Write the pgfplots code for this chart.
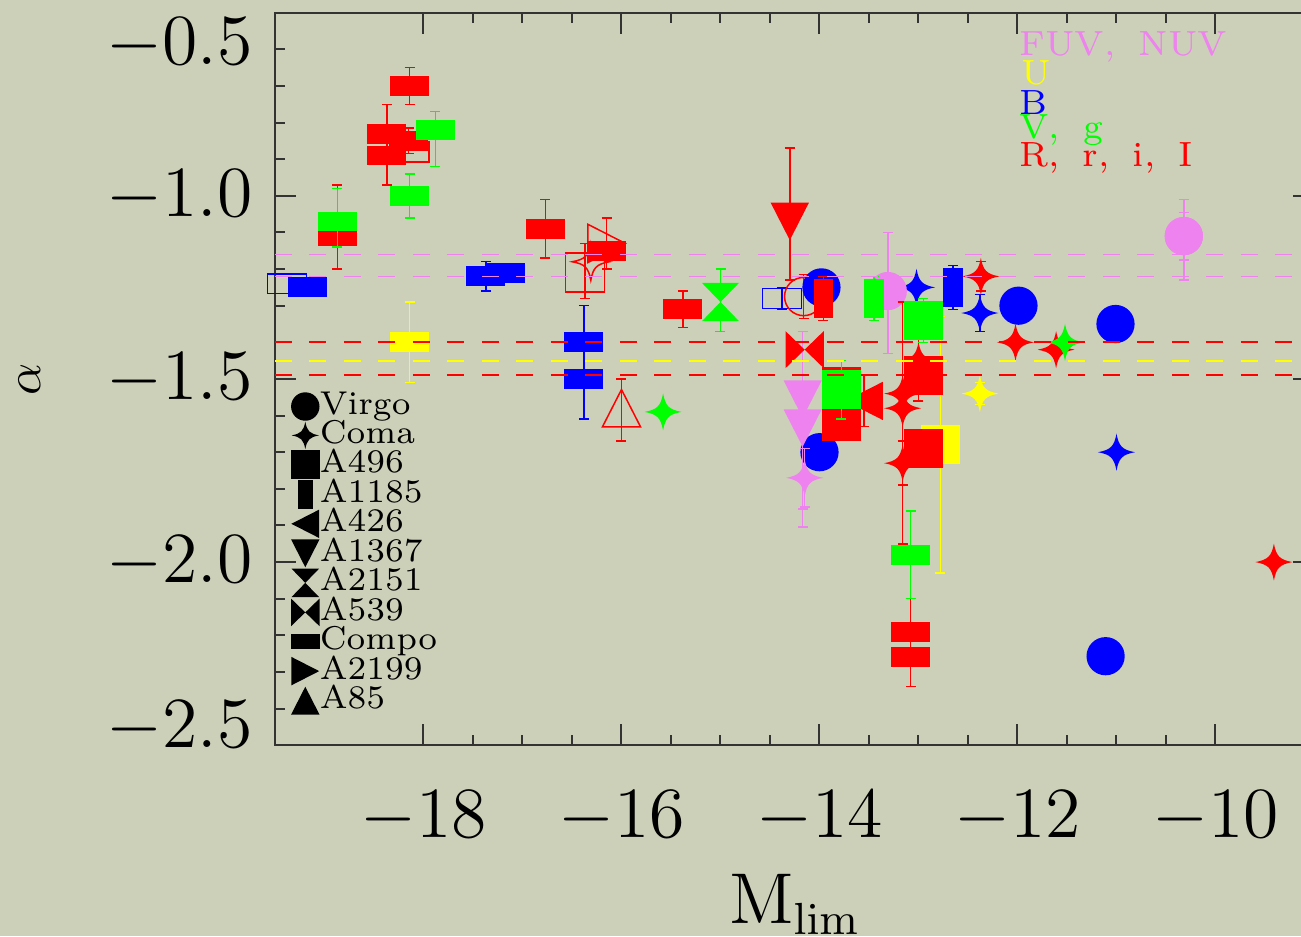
\documentclass[border=0pt]{standalone}
\usepackage{pgfplots}
\pgfplotsset{compat=1.18}
\usetikzlibrary{backgrounds}

\definecolor{bgc}{RGB}{204,208,185}
\definecolor{vio}{RGB}{238,130,238}
\definecolor{grn}{RGB}{0,255,0}
\definecolor{yel}{RGB}{255,255,0}
\definecolor{blu}{RGB}{0,0,255}
\definecolor{rd}{RGB}{255,0,0}

% each symbol comes as a filled (F) and an open (O) variant
\newcommand\defmk[2]{%
  \pgfdeclareplotmark{#1F}{#2\pgfusepathqfill}%
  \pgfdeclareplotmark{#1O}{#2\pgfusepathqstroke}}
\newcommand\mpt[2]{\pgfpoint{#1\pgfplotmarksize}{#2\pgfplotmarksize}}

\defmk{circ}{\pgfpathcircle{\pgfpointorigin}{0.98\pgfplotmarksize}}
\defmk{sq}{\pgfpathrectanglecorners{\mpt{-1}{-1}}{\mpt{1}{1}}}
\defmk{tall}{\pgfpathrectanglecorners{\mpt{-0.51}{-1}}{\mpt{0.51}{1}}}
\defmk{wide}{\pgfpathrectanglecorners{\mpt{-1}{-0.51}}{\mpt{1}{0.51}}}
\defmk{up}{\pgfpathmoveto{\mpt{0}{0.96}}\pgfpathlineto{\mpt{0.98}{-0.96}}\pgfpathlineto{\mpt{-0.98}{-0.96}}\pgfpathclose}
\defmk{down}{\pgfpathmoveto{\mpt{0}{-0.96}}\pgfpathlineto{\mpt{0.98}{0.96}}\pgfpathlineto{\mpt{-0.98}{0.96}}\pgfpathclose}
\defmk{left}{\pgfpathmoveto{\mpt{-0.96}{0}}\pgfpathlineto{\mpt{0.96}{0.98}}\pgfpathlineto{\mpt{0.96}{-0.98}}\pgfpathclose}
\defmk{right}{\pgfpathmoveto{\mpt{0.96}{0}}\pgfpathlineto{\mpt{-0.96}{0.98}}\pgfpathlineto{\mpt{-0.96}{-0.98}}\pgfpathclose}
\defmk{hour}{\pgfpathmoveto{\mpt{-0.95}{0.98}}\pgfpathlineto{\mpt{0.95}{0.98}}\pgfpathlineto{\mpt{0}{0}}\pgfpathclose
  \pgfpathmoveto{\mpt{0}{0}}\pgfpathlineto{\mpt{0.95}{-0.98}}\pgfpathlineto{\mpt{-0.95}{-0.98}}\pgfpathclose}
\defmk{bow}{\pgfpathmoveto{\mpt{-0.98}{0.95}}\pgfpathlineto{\mpt{-0.98}{-0.95}}\pgfpathlineto{\mpt{0}{0}}\pgfpathclose
  \pgfpathmoveto{\mpt{0}{0}}\pgfpathlineto{\mpt{0.98}{0.95}}\pgfpathlineto{\mpt{0.98}{-0.95}}\pgfpathclose}
\defmk{star}{\pgfpathmoveto{\mpt{0}{0.95}}%
  \pgfpathcurveto{\mpt{0.12}{0.3}}{\mpt{0.3}{0.12}}{\mpt{0.95}{0}}%
  \pgfpathcurveto{\mpt{0.3}{-0.12}}{\mpt{0.12}{-0.3}}{\mpt{0}{-0.95}}%
  \pgfpathcurveto{\mpt{-0.12}{-0.3}}{\mpt{-0.3}{-0.12}}{\mpt{-0.95}{0}}%
  \pgfpathcurveto{\mpt{-0.3}{0.12}}{\mpt{-0.12}{0.3}}{\mpt{0}{0.95}}\pgfpathclose}

\pgfplotsset{
  pt/.style={only marks, mark size=3.9pt, forget plot, mark options={line width=0.3pt}},
  eb/.style={error bars/.cd, y dir=both, y explicit,
    error bar style={line width=0.3pt},
    error mark=-,
    error mark options={rotate=90, line width=0.3pt, mark size=1pt}},
  lim/.style={forget plot, no marks, line width=0.35pt, dash pattern=on 3.4pt off 3.5pt},
  lg/.style={black, only marks, mark size=2.9pt},
}

\begin{document}
\begin{tikzpicture}
\begin{axis}[
  scale only axis, width=207.9pt, height=146.5pt,
  xmin=-19.5, xmax=-9, ymin=-2.5, ymax=-0.5,
  clip mode=individual,
  xtick={-18,-16,-14,-12,-10}, minor x tick num=3,
  ytick={-2.5,-2,-1.5,-1,-0.5}, yticklabels={,$-2.0$,$-1.5$,$-1.0$,},
  minor y tick num=4,
  tick align=inside,
  major tick length=4.2pt, minor tick length=2pt,
  axis line style={black!80, line width=0.4pt},
  every tick/.style={black!80, line width=0.4pt},
  ticklabel style={font=\fontsize{14}{14}\selectfont},
  xticklabel style={yshift=-5.6pt},
  yticklabel style={xshift=-1pt},
  xlabel={$\mathrm{M_{lim}}$}, ylabel={$\alpha$},
  xlabel style={at={(axis description cs:0.5,-0.2432)}, anchor=base, font=\fontsize{13.5}{13.5}\selectfont},
  ylabel style={at={(axis description cs:-0.2357,0.5)}, anchor=center, font=\fontsize{10}{10}\selectfont},
  legend image code/.code={\draw[#1] plot coordinates {(0pt,0pt)};},
  legend cell align=left,
  legend style={draw=none, fill=none, at={(0,1)}, anchor=north west,
    xshift=2.96pt, yshift=-75.56pt, inner sep=0pt, row sep=-0.3pt,
    font=\fontsize{6.6}{6.6}\selectfont,
    nodes={inner sep=0pt},
    /tikz/every even column/.append style={column sep=1pt}},
]
\coordinate (bl) at (rel axis cs:0,0);

% open symbols
\addplot[blu, pt, mark=wideO] coordinates {(-19.38,-1.24)};
\addplot[blu, pt, mark=wideO, eb] coordinates {(-14.38,-1.28) +- (0,0.03)};
\addplot[rd, pt, mark=wideO] coordinates {(-18.14,-0.88)};
\addplot[rd, pt, mark=rightO] coordinates {(-16.15,-1.13)};
\addplot[rd, pt, mark=starO] coordinates {(-16.31,-1.18)};
\addplot[rd, pt, mark=sqO, eb] coordinates {(-16.37,-1.21) += (0,0.08) -= (0,0.07)};
\addplot[rd, pt, mark=upO, eb] coordinates {(-16.00,-1.58) += (0,0.08) -= (0,0.09)};
\addplot[rd, pt, mark=circO, eb] coordinates {(-14.16,-1.275) +- (0,0.06)};

% B band
\addplot[blu, pt, mark=wideF] coordinates {(-19.17,-1.25) (-17.17,-1.21) (-16.38,-1.50)};
\addplot[blu, pt, mark=wideF, eb] coordinates {
  (-17.37,-1.22) +- (0,0.04)
  (-16.38,-1.40) += (0,0.10) -= (0,0.21)};
\addplot[blu, pt, mark=circF] coordinates {(-13.98,-1.25) (-14.0,-1.70) (-11.99,-1.30) (-11.01,-1.35) (-11.11,-2.257)};
\addplot[blu, pt, mark=starF] coordinates {(-13.02,-1.25) (-11.0,-1.70)};
\addplot[blu, pt, mark=starF, eb] coordinates {(-12.38,-1.32) +- (0,0.05)};
\addplot[blu, pt, mark=tallF, eb] coordinates {(-12.65,-1.25) +- (0,0.06)};

% FUV, NUV
\addplot[vio, pt, mark=circF, eb] coordinates {
  (-13.31,-1.26) += (0,0.16) -= (0,0.17)
  (-10.32,-1.11) += (0,0.10) -= (0,0.12)
  (-10.32,-1.11) +- (0,0.065)};
\addplot[vio, pt, mark=downF, eb] coordinates {
  (-14.17,-1.555) += (0,0.185) -= (0,0.30)
  (-14.17,-1.634) += (0,0.10) -= (0,0.27)};
\addplot[vio, pt, mark=starF, eb] coordinates {(-14.15,-1.77) +- (0,0.08)};

% U band
\addplot[yel, pt, mark=wideF, eb] coordinates {(-18.14,-1.40) +- (0,0.11)};
\addplot[yel, pt, mark=sqF, eb] coordinates {(-12.78,-1.68) +- (0,0.35)};
\addplot[yel, pt, mark=starF, eb] coordinates {(-12.38,-1.54) +- (0,0.03)};

% R', r, i, I bands
\addplot[rd, pt, mark=wideF] coordinates {(-18.37,-0.89) (-13.08,-2.26)};
\addplot[rd, pt, mark=wideF, eb] coordinates {
  (-18.14,-0.70) +- (0,0.05)
  (-18.37,-0.83) += (0,0.08) -= (0,0.14)
  (-18.15,-0.85) +- (0,0.035)
  (-18.87,-1.11) += (0,0.14) -= (0,0.09)
  (-16.77,-1.09) +- (0,0.08)
  (-16.15,-1.15) += (0,0.09) -= (0,0.05)
  (-15.38,-1.31) +- (0,0.05)
  (-13.08,-2.19) += (0,0.09) -= (0,0.15)};
\addplot[rd, pt, mark=downF, eb] coordinates {(-14.30,-1.07) += (0,0.20) -= (0,0.16)};
\addplot[rd, pt, mark=tallF, eb] coordinates {(-13.96,-1.28) +- (0,0.06)};
\addplot[rd, pt, mark=bowF] coordinates {(-14.15,-1.42)};
\addplot[rd, pt, mark=starF] coordinates {(-13.16,-1.54) (-12.02,-1.40) (-11.61,-1.42) (-9.41,-2.0)};
\addplot[rd, pt, mark=starF, eb] coordinates {
  (-13.16,-1.58) += (0,0.29) -= (0,0.37)
  (-13.16,-1.73) +- (0,0.06)
  (-13.00,-1.45) += (0,0.06) -= (0,0.11)
  (-12.37,-1.22) +- (0,0.04)};
\addplot[rd, pt, mark=sqF] coordinates {(-13.78,-1.52) (-13.78,-1.616) (-12.95,-1.49) (-12.95,-1.69)};
\addplot[rd, pt, mark=leftF, eb] coordinates {(-13.55,-1.56) +- (0,0.07)};

% V, g bands
\addplot[grn, pt, mark=wideF, eb] coordinates {
  (-18.87,-1.07) += (0,0.09) -= (0,0.07)
  (-18.14,-1.00) +- (0,0.06)
  (-17.88,-0.82) += (0,0.05) -= (0,0.10)
  (-13.08,-1.98) +- (0,0.12)};
\addplot[grn, pt, mark=starF] coordinates {(-15.58,-1.59) (-11.52,-1.40)};
\addplot[grn, pt, mark=hourF, eb] coordinates {(-15.0,-1.29) += (0,0.09) -= (0,0.08)};
\addplot[grn, pt, mark=sqF, eb] coordinates {(-13.78,-1.53) +- (0,0.08) (-12.95,-1.34) +- (0,0.06)};
\addplot[grn, pt, mark=tallF, eb] coordinates {(-13.45,-1.28) +- (0,0.06)};

% reference slopes
\addplot[vio, lim] coordinates {(-19.5,-1.16) (-9,-1.16)};
\addplot[vio, lim] coordinates {(-19.5,-1.22) (-9,-1.22)};
\addplot[rd, lim] coordinates {(-19.5,-1.40) (-9,-1.40)};
\addplot[yel, lim] coordinates {(-19.5,-1.45) (-9,-1.45)};
\addplot[rd, lim] coordinates {(-19.5,-1.49) (-9,-1.49)};

% cluster key
\addlegendimage{lg, mark=circF}\addlegendentry{Virgo}
\addlegendimage{lg, mark=starF}\addlegendentry{Coma}
\addlegendimage{lg, mark=sqF}\addlegendentry{A496}
\addlegendimage{lg, mark=tallF}\addlegendentry{A1185}
\addlegendimage{lg, mark=leftF}\addlegendentry{A426}
\addlegendimage{lg, mark=downF}\addlegendentry{A1367}
\addlegendimage{lg, mark=hourF}\addlegendentry{A2151}
\addlegendimage{lg, mark=bowF}\addlegendentry{A539}
\addlegendimage{lg, mark=wideF}\addlegendentry{Compo}
\addlegendimage{lg, mark=rightF}\addlegendentry{A2199}
\addlegendimage{lg, mark=upF}\addlegendentry{A85}

% end tick labels sit slightly inside the frame
\node[anchor=east, xshift=-1pt, font=\fontsize{14}{14}\selectfont] at ([yshift=-6.4pt]axis cs:-19.5,-0.5) {$-0.5$};
\node[anchor=east, xshift=-1pt, font=\fontsize{14}{14}\selectfont] at ([yshift=3.6pt]axis cs:-19.5,-2.5) {$-2.5$};

% band key
\begin{scope}[font=\fontsize{7.0}{7.0}\selectfont]
\node[anchor=base west, inner sep=0pt, text=vio] at (axis cs:-11.99,-0.6155) {FUV,\hspace{4.6pt}NUV};
\node[anchor=base west, inner sep=0pt, text=yel] at (axis cs:-11.97,-0.6973) {U};
\node[anchor=base west, inner sep=0pt, text=blu] at (axis cs:-11.99,-0.7791) {B};
\node[anchor=base west, inner sep=0pt, text=grn] at (axis cs:-11.99,-0.8427) {V,\hspace{4.6pt}g};
\node[anchor=base west, inner sep=0pt, text=rd] at (axis cs:-11.99,-0.9201) {R,\hspace{4.6pt}r,\hspace{4.6pt}i,\hspace{4.6pt}I};
\end{scope}
\end{axis}
\begin{scope}[on background layer]
\fill[bgc] ([shift={(-55pt,-38.2pt)}]bl) rectangle ([shift={(205.2pt,149.04pt)}]bl);
\end{scope}
\pgfresetboundingbox
\path[use as bounding box] ([shift={(-55pt,-38.2pt)}]bl) rectangle ([shift={(205.2pt,149.04pt)}]bl);
\end{tikzpicture}
\end{document}
